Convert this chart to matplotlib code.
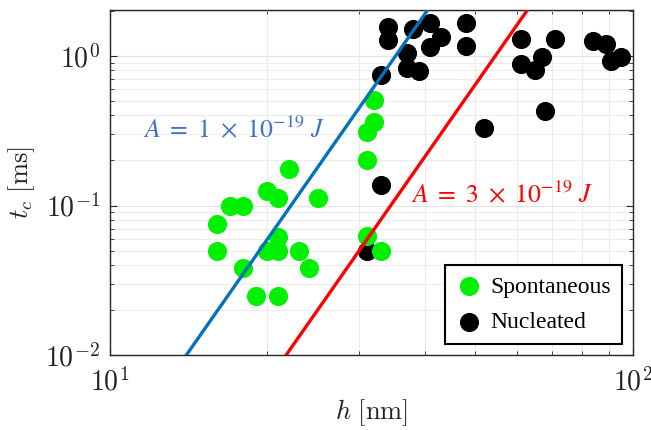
import numpy as np
import matplotlib
matplotlib.use("Agg")
import matplotlib.pyplot as plt
from matplotlib.ticker import NullFormatter, FuncFormatter

plt.rcParams["mathtext.fontset"] = "cm"

# datos
h_esp = [22, 20, 21, 25, 17, 18, 16, 21, 16, 20, 21, 23, 18, 24, 19, 21,
         32, 32, 31, 31, 31, 33]
t_esp = [0.175, 0.125, 0.113, 0.113, 0.10, 0.10, 0.075, 0.062, 0.05, 0.05,
         0.05, 0.05, 0.038, 0.038, 0.025, 0.025, 0.51, 0.36, 0.31, 0.20,
         0.063, 0.05]

h_nuc = [34, 34, 38, 41, 43, 41, 37, 37, 39, 33, 48, 48, 52, 33, 31,
         61, 71, 61, 67, 65, 68, 84, 89, 91, 95]
t_nuc = [1.57, 1.27, 1.52, 1.67, 1.33, 1.15, 1.04, 0.83, 0.79, 0.75, 1.65,
         1.16, 0.33, 0.137, 0.05, 1.30, 1.30, 0.89, 0.98, 0.80, 0.43, 1.26,
         1.21, 0.92, 0.98]

# rectas t ~ h^5 (h0 donde t = 0.01 ms)
h0_A1 = 14.0
h0_A3 = 14.0 * 3 ** 0.4


# etiquetas 10^n en Computer Modern
def potencia(v, pos):
    return r"$10^{%d}$" % int(round(np.log10(v)))


fig = plt.figure(figsize=(6.51, 4.30), dpi=100)
ax = fig.add_axes([0.169, 0.1744, 0.803, 0.8023])

ax.scatter(h_nuc, t_nuc, s=190, color="black", label="Nucleated", zorder=3, linewidths=0)
ax.scatter(h_esp, t_esp, s=190, color="#00f000", label="Spontaneous", zorder=3, linewidths=0)

h = np.logspace(1, 2, 200)
ax.plot(h, 0.01 * (h / h0_A1) ** 5, color="#0072BD", lw=2.4, zorder=4)
ax.plot(h, 0.01 * (h / h0_A3) ** 5, color="#FF0000", lw=2.4, zorder=4)

ax.set_xscale("log")
ax.set_yscale("log")
ax.set_xlim(10, 100)
ax.set_ylim(0.01, 2.03)
ax.xaxis.set_major_formatter(FuncFormatter(potencia))
ax.yaxis.set_major_formatter(FuncFormatter(potencia))
ax.xaxis.set_minor_formatter(NullFormatter())
ax.yaxis.set_minor_formatter(NullFormatter())

ax.grid(True, which="major", color="#e2e2e2", lw=0.8)
ax.grid(True, which="minor", color="#ececec", lw=0.7)
ax.set_axisbelow(True)

ax.tick_params(which="both", direction="in", top=True, right=True,
               labelsize=20, colors="#262626", labelcolor="#222222")
ax.tick_params(which="major", length=5)
ax.tick_params(which="minor", length=3)
ax.tick_params(axis="x", which="major", pad=9)
ax.tick_params(axis="y", which="major", pad=7)
for s in ax.spines.values():
    s.set_color("#262626")
    s.set_linewidth(1.0)

ax.set_xlabel(r"$h\ [\mathrm{nm}]$", fontsize=19, labelpad=1, color="#222222")
ax.set_ylabel(r"$t_c\ [\mathrm{ms}]$", fontsize=19, labelpad=6, color="#222222")

ax.text(11.57, 0.32, r"$A\ =\ 1\ \times\ 10^{-19}\ J$", color="#4472C4", fontsize=18.5,
        va="center", ha="left", math_fontfamily="stix")
ax.text(37.6, 0.118, r"$A\ =\ 3\ \times\ 10^{-19}\ J$", color="#FF0000", fontsize=18.5,
        va="center", ha="left", math_fontfamily="stix")

handles, labels = ax.get_legend_handles_labels()
leg = ax.legend(handles[::-1], labels[::-1], loc="lower right",
                bbox_to_anchor=(0.979, 0.032), borderaxespad=0, fancybox=False,
                framealpha=1, edgecolor="black",
                prop={"family": "Liberation Serif", "size": 17},
                handletextpad=0.3, borderpad=0.45, labelspacing=0.6,
                handlelength=1.2, markerscale=1.0)
leg.get_frame().set_linewidth(1.5)

fig.savefig("out.png", dpi=100)
